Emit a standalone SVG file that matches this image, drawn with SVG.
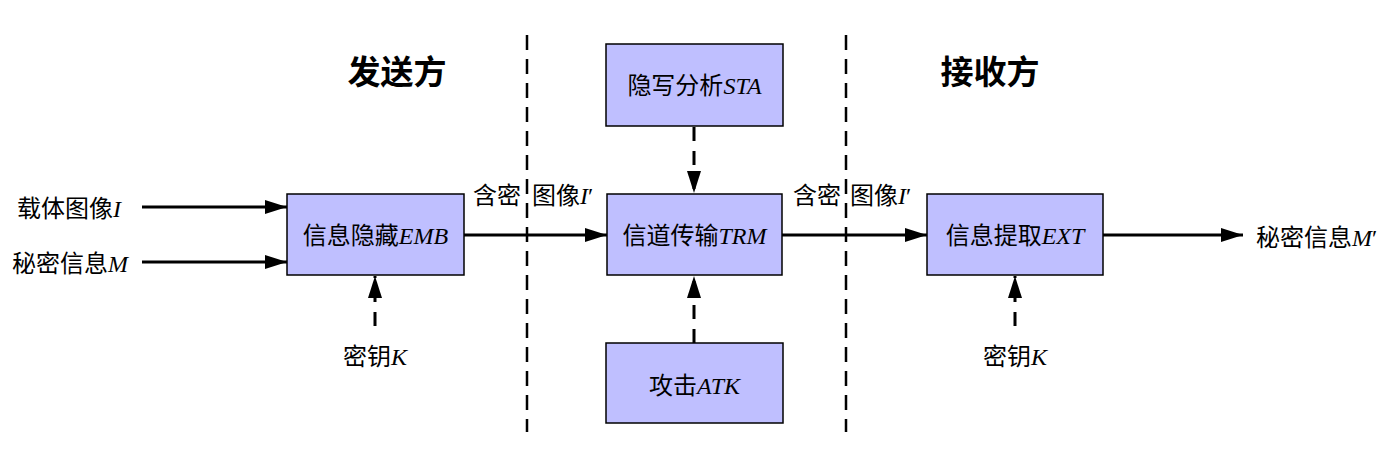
<svg xmlns="http://www.w3.org/2000/svg" width="1394" height="468" viewBox="0 0 1394 468">
<style>
.box{fill:#bfbfff;stroke:#000;stroke-width:1.5}
.t{font-family:"Liberation Serif","Noto Sans CJK SC",serif;font-size:24px;fill:#000}
.i{font-style:italic}
.h{font-family:"Liberation Serif","Noto Sans CJK SC",serif;font-size:33px;font-weight:bold;fill:#000}
.ln{stroke:#000;stroke-width:3;fill:none}
.ds{stroke:#000;stroke-width:3;fill:none;stroke-dasharray:14,10}
.sep{stroke:#000;stroke-width:2.5;fill:none;stroke-dasharray:15,9}
</style>
<defs>
<marker id="ar" markerWidth="22" markerHeight="14" refX="22" refY="7" orient="auto" markerUnits="userSpaceOnUse">
<path d="M0,0 L22,7 L0,14 Z" fill="#000"/>
</marker>
</defs>
<rect width="1394" height="468" fill="#fff"/>
<g id="separators">
<line class="sep" x1="527" y1="35" x2="527" y2="432"/>
<line class="sep" x1="846" y1="35" x2="846" y2="432"/>
</g>
<g id="titles">
<text class="h" x="397" y="84" text-anchor="middle">发送方</text>
<text class="h" x="990" y="84" text-anchor="middle">接收方</text>
</g>
<g id="connectors">
<line class="ln" x1="142" y1="207" x2="287" y2="207" marker-end="url(#ar)"/>
<line class="ln" x1="142" y1="262" x2="287" y2="262" marker-end="url(#ar)"/>
<line class="ln" x1="464" y1="235" x2="607" y2="235" marker-end="url(#ar)"/>
<line class="ln" x1="782" y1="235" x2="927" y2="235" marker-end="url(#ar)"/>
<line class="ln" x1="1103" y1="235" x2="1243" y2="235" marker-end="url(#ar)"/>
<line class="ds" x1="375" y1="326" x2="375" y2="276" marker-end="url(#ar)"/>
<line class="ds" x1="1015" y1="326" x2="1015" y2="276" marker-end="url(#ar)"/>
<line class="ds" x1="694" y1="127" x2="694" y2="193" marker-end="url(#ar)"/>
<line class="ds" x1="694" y1="343" x2="694" y2="276" marker-end="url(#ar)"/>
</g>
<g id="emb">
<rect class="box" x="287" y="194" width="177" height="81"/>
<text class="t" x="375.5" y="244" text-anchor="middle">信息隐藏<tspan class="i">EMB</tspan></text>
</g>
<g id="trm">
<rect class="box" x="607" y="194" width="175" height="81"/>
<text class="t" x="694.5" y="244" text-anchor="middle">信道传输<tspan class="i">TRM</tspan></text>
</g>
<g id="ext">
<rect class="box" x="927" y="194" width="176" height="81"/>
<text class="t" x="1015" y="244" text-anchor="middle">信息提取<tspan class="i">EXT</tspan></text>
</g>
<g id="sta">
<rect class="box" x="606" y="44" width="177" height="82"/>
<text class="t" x="694.5" y="94" text-anchor="middle">隐写分析<tspan class="i">STA</tspan></text>
</g>
<g id="atk">
<rect class="box" x="606" y="343" width="177" height="80"/>
<text class="t" x="694.5" y="394" text-anchor="middle">攻击<tspan class="i">ATK</tspan></text>
</g>
<g id="labels">
<text class="t" x="17" y="217">载体图像<tspan class="i">I</tspan></text>
<text class="t" x="12" y="272">秘密信息<tspan class="i">M</tspan></text>
<text class="t" x="473" y="204">含密</text>
<text class="t" x="532" y="204">图像<tspan class="i">I</tspan>′</text>
<text class="t" x="793" y="204">含密</text>
<text class="t" x="850" y="204">图像<tspan class="i">I</tspan>′</text>
<text class="t" x="1256" y="246">秘密信息<tspan class="i">M</tspan>′</text>
<text class="t" x="375" y="365" text-anchor="middle">密钥<tspan class="i">K</tspan></text>
<text class="t" x="1015" y="365" text-anchor="middle">密钥<tspan class="i">K</tspan></text>
</g>
</svg>
